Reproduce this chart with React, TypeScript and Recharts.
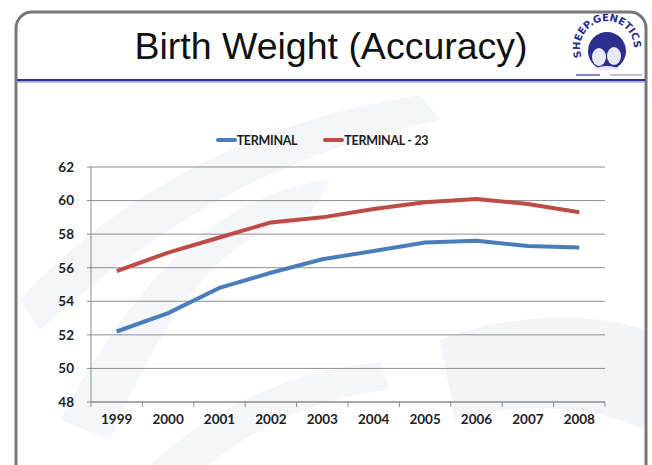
import { LineChart, Line, XAxis, YAxis, CartesianGrid, Legend } from "recharts";

const years = ["1999", "2000", "2001", "2002", "2003", "2004", "2005", "2006", "2007", "2008"];
const terminal = [52.2, 53.3, 54.8, 55.7, 56.5, 57.0, 57.5, 57.6, 57.3, 57.2];
const terminal23 = [55.8, 56.9, 57.8, 58.7, 59.0, 59.5, 59.9, 60.1, 59.8, 59.3];
const yTicks = [48, 50, 52, 54, 56, 58, 60, 62];

const seriesInfo = [
  { key: "terminal", name: "TERMINAL", color: "#4a7ebb" },
  { key: "terminal23", name: "TERMINAL - 23", color: "#be4b48" }
];

const data = years.map((year, i) => ({
  year,
  terminal: terminal[i],
  terminal23: terminal23[i]
}));

const W = 652;
const H = 465;
const margin = { top: 130, right: 47, left: 51, bottom: 33 };
const yAxisWidth = 40;
const plotWidth = W - margin.left - margin.right - yAxisWidth;
const halfBand = plotWidth / years.length / 2;

const labelFont = "Lato, 'Open Sans', sans-serif";

// category labels centred, tick marks sit on the category boundaries
const YearTick = (props: any) => {
  const { x, y, payload, index } = props;
  const axisY = y - 12;
  return (
    <g>
      <line x1={x - halfBand} x2={x - halfBand} y1={axisY} y2={axisY + 5} stroke="#8a8a8a" />
      {index === years.length - 1 && (
        <line x1={x + halfBand} x2={x + halfBand} y1={axisY} y2={axisY + 5} stroke="#8a8a8a" />
      )}
      <text x={x} y={y} dy="0.71em" textAnchor="middle" fill="#1e1e1e" fontSize={13.5} fontWeight={700} fontFamily={labelFont}>
        {payload.value}
      </text>
    </g>
  );
};

const renderLegend = () => (
  <div style={{ height: 37, display: "flex", justifyContent: "center", alignItems: "flex-start", paddingLeft: 14 }}>
    {seriesInfo.map((s) => (
      <div key={s.key} style={{ display: "flex", alignItems: "center", marginRight: 26, height: 20 }}>
        <span style={{ display: "inline-block", width: 21, height: 4, background: s.color, borderRadius: 2 }} />
        <span style={{ fontFamily: labelFont, fontWeight: 700, fontSize: 12.5, color: "#1e1e1e", letterSpacing: -0.3 }}>{s.name}</span>
      </div>
    ))}
  </div>
);

const Logo = () => (
  <svg width={84} height={80} style={{ position: "absolute", left: 566, top: 4 }}>
    <defs>
      <path id="logoArc" d="M 15.6 53.2 A 27 27 0 1 1 66.4 53.2" />
    </defs>
    <circle cx={41} cy={47} r={19} fill="#2b2e8c" />
    <ellipse cx={33} cy={53} rx={7} ry={9} fill="#e6e9f6" />
    <ellipse cx={48} cy={52} rx={7} ry={9} fill="#e6e9f6" />
    <path d="M 26 66 Q 41 58 56 66 Z" fill="#e6e9f6" />
    <text fontSize={10} fontWeight={700} fill="#2b2e8c" fontFamily="'DejaVu Sans', sans-serif">
      <textPath href="#logoArc">SHEEP.GENETICS</textPath>
    </text>
    <line x1={10} y1={71} x2={34} y2={71} stroke="#5a60a8" strokeWidth={1.5} />
    <line x1={44} y1={71} x2={76} y2={71} stroke="#a8acd2" strokeWidth={1.5} />
  </svg>
);

export default function App() {
  return (
    <div style={{ position: "absolute", left: 0, top: 0, width: W, height: H, overflow: "hidden", background: "#fff" }}>
      <svg width={W} height={H} style={{ position: "absolute", left: 0, top: 0 }}>
        <path d="M 20 300 C 120 190, 260 120, 420 95 L 440 120 C 290 150, 160 220, 40 330 Z" fill="#f3f5f9" />
        <path d="M 60 420 C 150 250, 240 190, 330 180 L 310 215 C 230 230, 170 300, 110 440 Z" fill="#f4f6fa" />
        <path d="M 150 465 C 220 400, 300 370, 380 362 L 390 390 C 320 395, 250 430, 210 465 Z" fill="#f5f6fa" />
        <path d="M 440 340 C 500 315, 590 310, 646 330 L 646 430 C 580 400, 500 405, 455 420 Z" fill="#f2f4f8" />
        <rect x={16} y={12} width={630} height={470} rx={16} ry={16} fill="none" stroke="#777" strokeWidth={3} />
        <rect x={17} y={79} width={628} height={2.5} fill="#2e3192" />
        <rect x={17} y={81.5} width={628} height={1.5} fill="#b9bce0" />
        <text x={331} y={59} textAnchor="middle" fontSize={37.5} fontFamily="'Liberation Sans', Arial, sans-serif" fill="#111">
          Birth Weight (Accuracy)
        </text>
      </svg>
      <Logo />
      <div style={{ position: "absolute", left: 0, top: 0 }}>
        <LineChart width={W} height={H} data={data} margin={margin}>
          <CartesianGrid vertical={false} stroke="#8f8f8f" strokeWidth={1} />
          <XAxis
            dataKey="year"
            scale="band"
            height={30}
            stroke="#8a8a8a"
            tickLine={false}
            tickSize={5}
            tickMargin={7}
            tick={<YearTick />}
            interval={0}
          />
          <YAxis
            width={yAxisWidth}
            domain={[48, 62]}
            ticks={yTicks}
            interval={0}
            stroke="#8a8a8a"
            tickSize={4}
            tickMargin={13}
            tick={{ fill: "#1e1e1e", fontSize: 13.5, fontWeight: 700, fontFamily: labelFont }}
          />
          <Legend verticalAlign="top" align="center" content={renderLegend} />
          {seriesInfo.map((s) => (
            <Line
              key={s.key}
              type="linear"
              dataKey={s.key}
              name={s.name}
              stroke={s.color}
              strokeWidth={4}
              dot={false}
              isAnimationActive={false}
            />
          ))}
        </LineChart>
      </div>
    </div>
  );
}
